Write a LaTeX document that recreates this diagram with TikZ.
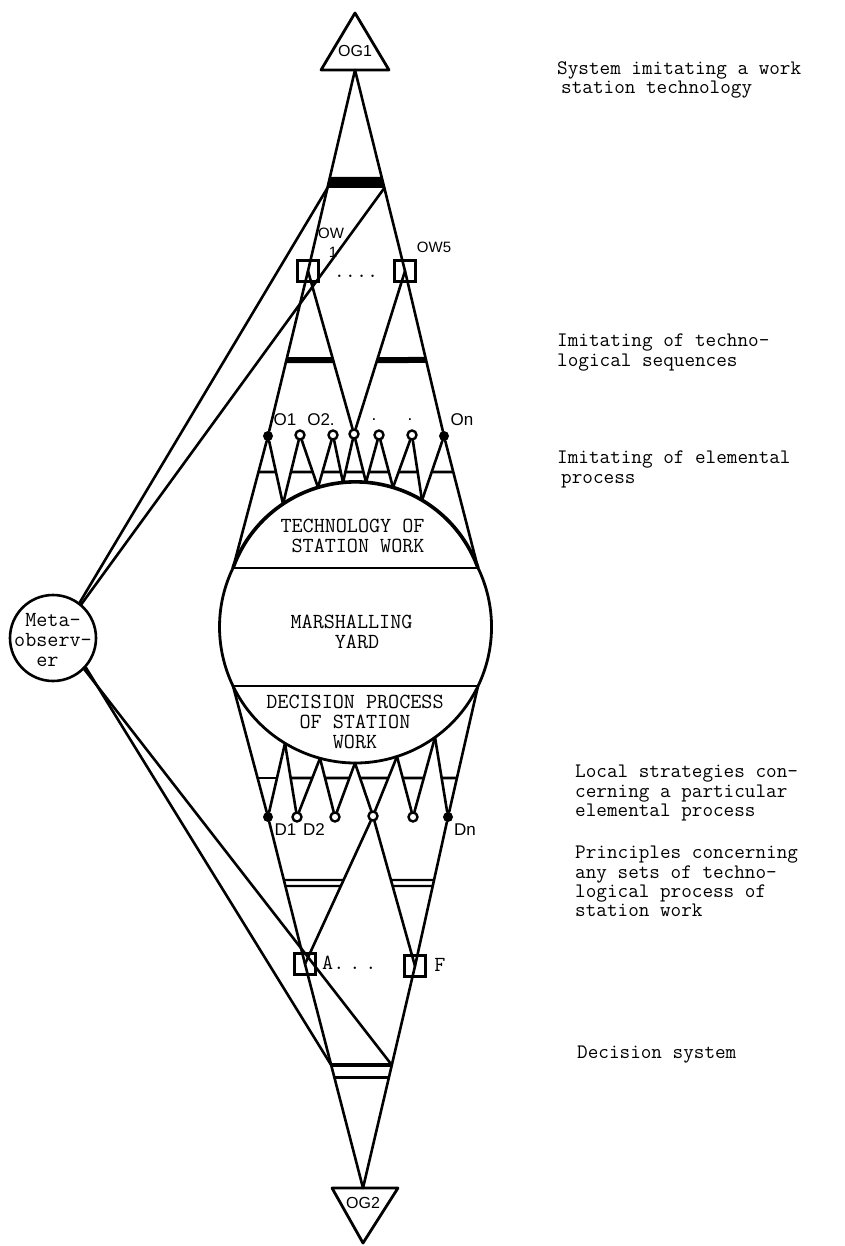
\documentclass[tikz,border=0pt]{standalone}
\usepackage{fontspec}
\newfontfamily\labsf{Liberation Sans}
\newcommand\hseg[4][]{\draw[#1] (intersection of #2 and 0,#4--900,#4) -- (intersection of #3 and 0,#4--900,#4);}
\newcommand\hband[5][]{\fill[#1] (intersection of #2 and 0,#4--900,#4) -- (intersection of #3 and 0,#4--900,#4) -- (intersection of #3 and 0,#5--900,#5) -- (intersection of #2 and 0,#5--900,#5) -- cycle;}
\begin{document}
\begin{tikzpicture}[x=1pt,y=-1pt,
  ln/.style={line width=2.6pt, line cap=round, line join=round},
  box/.style={draw, line width=2.8pt, minimum size=21pt, inner sep=0pt},
  fdot/.style={circle, fill, inner sep=0pt, minimum size=10pt},
  odot/.style={circle, draw, fill=white, line width=2.4pt, inner sep=0pt, minimum size=9pt},
  tw/.style={font=\ttfamily\addfontfeatures{FakeBold=1}\fontsize{21.5}{20}\selectfont, inner sep=0pt, align=center},
  side/.style={font=\ttfamily\addfontfeatures{FakeBold=0.8}\fontsize{20.6}{19.2}\selectfont, inner sep=0pt, align=left, anchor=west},
  sf/.style={inner sep=0pt},
  bar/.style={line width=2.8pt},
  dbar/.style={line width=2.2pt},
]
\useasboundingbox (0,0) rectangle (844,1246);

% ---------- top triangle OG1 ----------
\draw[ln, line width=2.8pt] (355,13) -- (389,70) -- (321,70) -- cycle;
\node[sf, font=\labsf\fontsize{16}{16}\selectfont] (og1) at (355,51) {OG1};
\coordinate (og1b) at (355,70);

% ---------- boxes ----------
\node[box] (ow1) at (308,271) {};
\node[box] (ow5) at (405,271) {};
\node[box] (a) at (305,964) {};
\node[box] (f) at (415,966) {};

% ---------- O dots ----------
\node[fdot] (o1) at (268,436) {};
\node[odot] (o2) at (300,435) {};
\node[odot] (o3) at (333,435) {};
\node[odot] (o4) at (354,434) {};
\node[odot] (o5) at (379,435) {};
\node[odot] (o6) at (412,435) {};
\node[fdot] (on) at (444,436) {};

% ---------- D dots ----------
\node[fdot] (d1) at (268,817) {};
\node[odot] (d2) at (297,817) {};
\node[odot] (d3) at (335,817) {};
\node[odot] (d4) at (373,816) {};
\node[odot] (d5) at (413,817) {};
\node[fdot] (dn) at (448,817) {};

% ---------- feet on the arcs ----------
\coordinate (t0) at (233,568);
\coordinate (t1) at (283,504);
\coordinate (t2) at (318,487.5);
\coordinate (t3) at (343,482.6);
\coordinate (t4) at (366,482.4);
\coordinate (t5) at (393,487.5);
\coordinate (t6) at (422,500.3);
\coordinate (t7) at (478,568);
\coordinate (b0) at (233,686);
\coordinate (b7) at (478,686);
\coordinate (f1) at (285,743.3);
\coordinate (f2) at (320,758.3);
\coordinate (f3) at (355,763);
\coordinate (f4) at (397,756.5);
\coordinate (f5) at (435,737.3);
\coordinate (og2t) at (363,1188);

% ---------- big circle ----------
\draw[line width=2.8pt] (t0) arc[start angle=205.7, end angle=-25.7, radius=136];
\draw[line width=3.6pt] (t0) arc[start angle=199.8, end angle=340.2, radius=130.2];
\draw[line width=2.6pt] (t0) -- (t7);
\draw[line width=2.6pt] (b0) -- (b7);

% ---------- upper structure ----------
\draw[ln] (og1b) -- (ow1.center);
\draw[ln] (og1b) -- (ow5.center);
\hband{og1b--ow1.center}{og1b--ow5.center}{177}{188}
\draw[ln] (ow1.center) -- (o1);
\draw[ln] (ow1.center) -- (o4);
\draw[ln] (ow5.center) -- (o4);
\draw[ln] (ow5.center) -- (on);
\hband{ow1.center--o1.center}{ow1.center--o4.center}{357}{363}
\hband{ow5.center--o4.center}{ow5.center--on.center}{357}{363}

\foreach \o/\l/\r in {o1/t0/t1, o2/t1/t2, o3/t2/t3, o4/t3/t4, o5/t4/t5, o6/t5/t6, on/t6/t7}{
  \draw[ln] (\o) -- (\l);
  \draw[ln] (\o) -- (\r);
  \hseg[bar]{\o.center--\l}{\o.center--\r}{472}
}

% ---------- lower structure ----------
\foreach \o/\l/\r in {d1/b0/f1, d2/f1/f2, d3/f2/f3, d4/f3/f4, d5/f4/f5, dn/f5/b7}{
  \draw[ln] (\o) -- (\l);
  \draw[ln] (\o) -- (\r);
  \hseg[bar]{\o.center--\l}{\o.center--\r}{778}
}
\draw[ln] (d1) -- (a.center);
\draw[ln] (d4) -- (a.center);
\draw[ln] (d4) -- (f.center);
\draw[ln] (dn) -- (f.center);
\hseg[dbar]{d1.center--a.center}{d4.center--a.center}{880}
\hseg[dbar]{d1.center--a.center}{d4.center--a.center}{886}
\hseg[dbar]{d4.center--f.center}{dn.center--f.center}{880}
\hseg[dbar]{d4.center--f.center}{dn.center--f.center}{886}
\draw[ln] (a.center) -- (og2t);
\draw[ln] (f.center) -- (og2t);
\hseg[line width=3.6pt]{a.center--og2t}{f.center--og2t}{1065}
\hseg[line width=3pt]{a.center--og2t}{f.center--og2t}{1077}

% ---------- bottom triangle OG2 ----------
\draw[ln, line width=2.8pt] (332,1188) -- (398,1188) -- (363,1243) -- cycle;
\node[sf, font=\labsf\fontsize{16}{16}\selectfont] (og2) at (363,1203) {OG2};

% ---------- meta-observer ----------
\node[circle, draw, line width=2.6pt, minimum size=86pt, inner sep=0pt] (meta) at (53,638) {};
\node[tw] (metatext) at (53,640) {Meta-\\observ-\\er\hphantom{x}};
\coordinate (tbl) at (intersection of og1b--ow1.center and 0,188--900,188);
\coordinate (tbr) at (intersection of og1b--ow5.center and 0,188--900,188);
\coordinate (bbl) at (intersection of a.center--og2t and 0,1065--900,1065);
\coordinate (bbr) at (intersection of f.center--og2t and 0,1065--900,1065);
\draw[ln] (meta.53) -- (tbl);
\draw[ln] (meta.50) -- (tbr);
\draw[ln] (meta.-42) -- (bbl);
\draw[ln] (meta.-45) -- (bbr);

% ---------- labels in the diagram ----------
\node[sf, font=\labsf\fontsize{15}{15}\selectfont] (ow1a) at (331,233) {OW};
\node[sf, font=\labsf\fontsize{15}{15}\selectfont] (ow1b) at (333,252) {1};
\node[sf, font=\labsf\fontsize{15}{15}\selectfont] (ow5l) at (434,247) {OW5};
\node[tw] (owdots) at (356,276) {....};
\node[sf, font=\labsf\fontsize{17}{17}\selectfont] (o1l) at (285,420) {O1};
\node[sf, font=\labsf\fontsize{17}{17}\selectfont] (o2l) at (321,420) {O2.};
\node[sf, font=\labsf\fontsize{17}{17}\selectfont] (odot1) at (374,420) {.};
\node[sf, font=\labsf\fontsize{17}{17}\selectfont] (odot2) at (410,420) {.};
\node[sf, font=\labsf\fontsize{17}{17}\selectfont] (onl) at (462,420) {On};
\node[sf, font=\labsf\fontsize{17}{17}\selectfont] (d1l) at (285.5,830) {D1};
\node[sf, font=\labsf\fontsize{17}{17}\selectfont] (d2l) at (314,830) {D2};
\node[sf, font=\labsf\fontsize{17}{17}\selectfont] (dnl) at (465,830) {Dn};
\node[tw, anchor=west] (al) at (322,963) {A.\hspace{5pt}.\hspace{5pt}.};
\node[tw] (fl) at (440,965) {F};

\node[tw, align=left] (tech) at (352.5,536) {TECHNOLOGY OF\\\hphantom{T}STATION WORK};
\node[tw, align=left] (yard) at (351.5,632) {MARSHALLING\\\hphantom{XXXX}YARD};
\node[tw] (decis) at (355,722) {DECISION PROCESS\\OF STATION\\WORK};

% ---------- side texts ----------
\node[side] (s1) at (557,80) {System imitating a work\\\hspace*{4pt}station technology};
\node[side] (s2) at (557,352.5) {Imitating of techno-\\logical sequences};
\node[side] (s3) at (557,469.5) {Imitating of elemental\\\hspace*{4pt}process};
\node[side] (s4) at (575,793) {Local strategies con-\\cerning a particular\\elemental process};
\node[side] (s5) at (575,881.5) {Principles concerning\\any sets of techno-\\logical process of\\station work};
\node[side] (s6) at (577,1055) {Decision system};
\end{tikzpicture}
\end{document}
